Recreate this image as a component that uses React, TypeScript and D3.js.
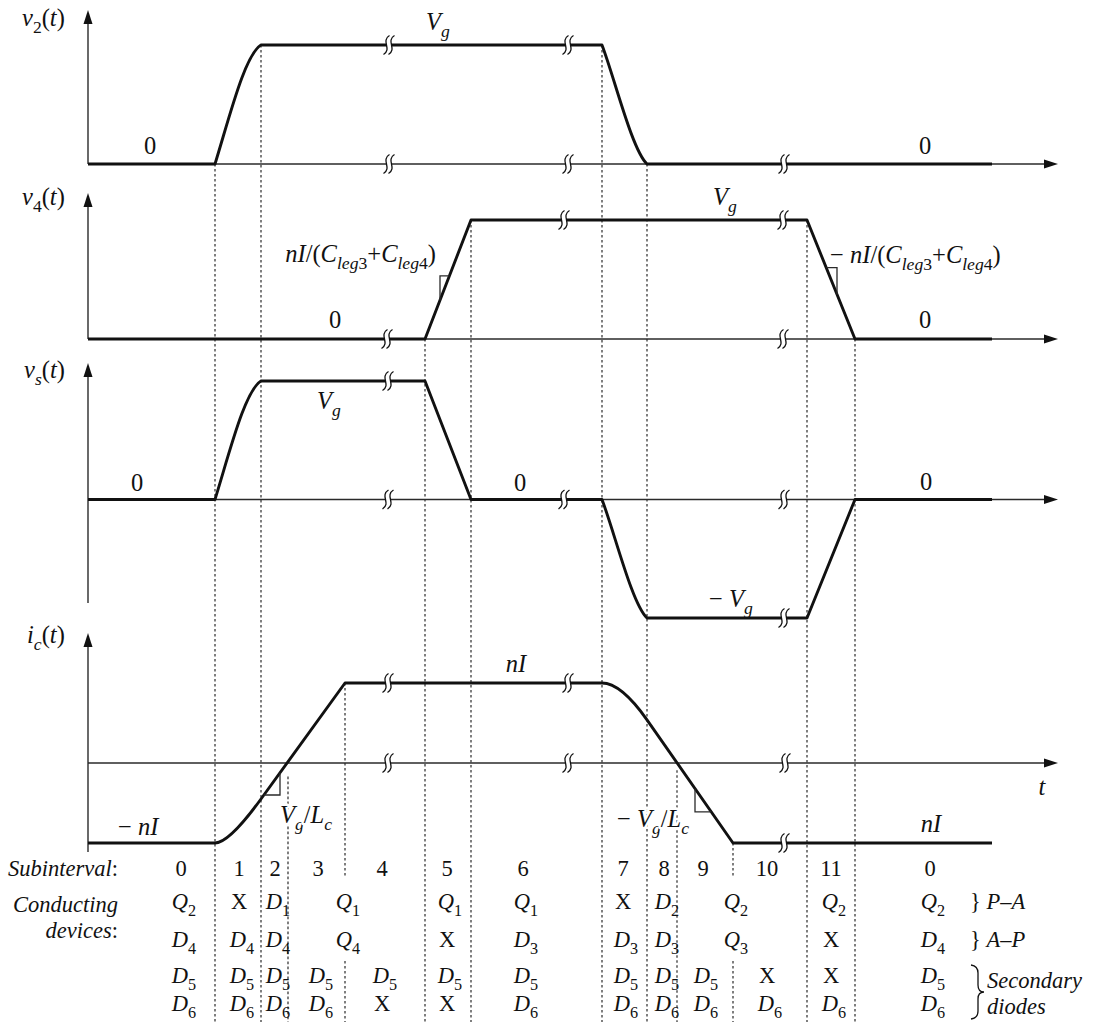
import React from 'react';
import * as d3 from 'd3';

// ---- time instants (arbitrary time units) ----
// boundaries between subintervals 0..11
const edges = [12.7, 17.3, 20.0, 25.7, 33.7, 38.3, 51.4, 55.9, 58.9, 64.5, 71.9, 76.7];
const waveEnd = 90.4;
const axisEnd = 97;

// ---- waveforms: [t, value, optional bezier control points] ----
const v2Wave: any[] = [
  [0, 0], [12.7, 0], [17.3, 1, [[14.2, 0.41], [15.7, 0.92]]], [51.4, 1],
  [55.9, 0, [[52.7, 0.71], [54.4, 0.12]]], [waveEnd, 0],
];
const v4Wave: any[] = [[0, 0], [33.7, 0], [38.3, 1], [71.9, 1], [76.7, 0], [waveEnd, 0]];
const vsWave: any[] = [
  [0, 0], [12.7, 0], [17.3, 1, [[14.2, 0.41], [15.7, 0.92]]], [33.7, 1], [38.3, 0], [51.4, 0],
  [55.9, -1, [[52.7, -0.29], [54.4, -0.88]]], [71.9, -1], [76.7, 0], [waveEnd, 0],
];
const icWave: any[] = [
  [0, -1], [12.7, -1], [17.3, -0.45, [[14.1, -1]]], [25.7, 1], [51.4, 1],
  [55.9, 0.54, [[53.3, 1]]], [64.5, -1], [waveEnd, -1],
];

// slope indicators: corner point and the wave segment (ending vertex index) they sit on
const slopeMarks = [
  { panel: 'v4', wave: v4Wave, seg: 2, corner: [35.2, 0.53] },
  { panel: 'v4', wave: v4Wave, seg: 4, corner: [74.9, 0.6] },
  { panel: 'ic', wave: icWave, seg: 3, corner: [19.2, -0.4] },
  { panel: 'ic', wave: icWave, seg: 6, corner: [60.7, -0.61] },
];

// axis break symbols
const breaks: [string, number, number][] = [
  ['v2', 1, 30.1], ['v2', 1, 48.0], ['v2', 0, 30.1], ['v2', 0, 48.0], ['v2', 0, 69.6],
  ['v4', 0, 29.9], ['v4', 1, 47.6], ['v4', 1, 69.5], ['v4', 0, 69.5],
  ['vs', 1, 30.0], ['vs', 0, 30.0], ['vs', 0, 47.6], ['vs', 0, 69.6], ['vs', -1, 69.6],
  ['ic', 1, 30.0], ['ic', 1, 48.0], ['ic', 0, 30.0], ['ic', 0, 48.0], ['ic', 0, 69.7], ['ic', -1, 69.6],
];

// dashed guides: time, panel/value where they start, whether interrupted by spanning table cells
const guides: [number, string, number, boolean][] = [
  [12.7, 'v2', 0, false], [17.3, 'v2', 1, false], [20.0, 'ic', -0.17, false], [25.7, 'ic', 1, true],
  [33.7, 'v4', 0, false], [38.3, 'v4', 1, false], [51.4, 'v2', 1, false], [55.9, 'v2', 0, false],
  [58.9, 'ic', -0.09, false], [64.5, 'ic', -1, true], [71.9, 'v4', 1, false], [76.7, 'v4', 0, false],
];

// ---- table ----
const subintervals = ['0', '1', '2', '3', '4', '5', '6', '7', '8', '9', '10', '11', '0'];
const columnCenters = [9.3, 15.1, 18.7, 23.0, 29.4, 35.9, 43.5, 53.5, 57.6, 61.5, 67.9, 74.3, 84.2];
const rowPA = ['Q2', 'X', 'D1', 'Q1', '~', 'Q1', 'Q1', 'X', 'D2', 'Q2', '~', 'Q2', 'Q2'];
const rowAP = ['D4', 'D4', 'D4', 'Q4', '~', 'X', 'D3', 'D3', 'D3', 'Q3', '~', 'X', 'D4'];
const rowD5 = ['D5', 'D5', 'D5', 'D5', 'D5', 'D5', 'D5', 'D5', 'D5', 'D5', 'X', 'X', 'D5'];
const rowD6 = ['D6', 'D6', 'D6', 'D6', 'X', 'X', 'D6', 'D6', 'D6', 'D6', 'D6', 'D6', 'D6'];

const FONT = "'Liberation Serif', 'Times New Roman', Tinos, 'DejaVu Serif', 'Noto Serif', FreeSerif, Times, serif";
const INK = '#111';
const THIN = '#2a2a2a';

const x = d3.scaleLinear().domain([0, axisEnd]).range([88, 1058]);
const y: Record<string, d3.ScaleLinear<number, number>> = {
  v2: d3.scaleLinear().domain([0, 1]).range([164, 45]),
  v4: d3.scaleLinear().domain([0, 1]).range([339, 220]),
  vs: d3.scaleLinear().domain([-1, 1]).range([618, 381]),
  ic: d3.scaleLinear().domain([-1, 1]).range([843, 683]),
};
const frames = [
  { key: 'v2', top: 10, bottom: 164 },
  { key: 'v4', top: 193, bottom: 339 },
  { key: 'vs', top: 363, bottom: 603 },
  { key: 'ic', top: 633, bottom: 852 },
];

function wavePath(pts: any[], ys: d3.ScaleLinear<number, number>) {
  const p = d3.path();
  pts.forEach((pt, i) => {
    const [t, v, c] = pt;
    if (i === 0) p.moveTo(x(t), ys(v));
    else if (c && c.length === 2) p.bezierCurveTo(x(c[0][0]), ys(c[0][1]), x(c[1][0]), ys(c[1][1]), x(t), ys(v));
    else if (c) p.quadraticCurveTo(x(c[0][0]), ys(c[0][1]), x(t), ys(v));
    else p.lineTo(x(t), ys(v));
  });
  return p.toString();
}

type Run = [string, string?];
function Rich({ px, py, size, runs, anchor = 'start', halo = false }:
  { px: number; py: number; size: number; runs: Run[]; anchor?: string; halo?: boolean }) {
  let shift = 0;
  const kids = runs.map(([t, f = ''], i) => {
    const sub = f.includes('s');
    const target = sub ? size * 0.3 : 0;
    const dy = target - shift;
    shift = target;
    return (
      <tspan key={i} dy={dy} style={{ fontStyle: f.includes('i') ? 'italic' : 'normal', fontSize: sub ? size * 0.72 : size }}>
        {t}
      </tspan>
    );
  });
  return (
    <text x={px} y={py} textAnchor={anchor as any} fill={INK}
      stroke={halo ? '#fff' : 'none'} strokeWidth={halo ? 5 : 0} strokeLinejoin="round"
      style={{ paintOrder: 'stroke', fontFamily: FONT, fontSize: size } as any}>
      {kids}
    </text>
  );
}

function cellRuns(label: string): Run[] {
  const m = /^([QD])(\d)$/.exec(label);
  if (m) return [[m[1], 'i'], [m[2], 's']];
  return [[label]];
}

function BreakMark({ cx, cy }: { cx: number; cy: number }) {
  const s = (dx: number) => {
    const a = cx + dx;
    return `M${a + 3},${cy - 9.5} C${a - 6},${cy - 4} ${a + 6},${cy + 4} ${a - 3},${cy + 9.5}`;
  };
  const gapFill = `${s(-5)} L${cx - 3},${cy + 9.5} C${cx + 6},${cy + 4} ${cx - 6},${cy - 4} ${cx + 3},${cy - 9.5} Z`;
  return (
    <g>
      <path d={gapFill} fill="#fff" stroke="none" />
      <path d={s(-5)} fill="none" stroke={INK} strokeWidth={1.3} />
      <path d={s(0)} fill="none" stroke={INK} strokeWidth={1.3} />
    </g>
  );
}

export default function App() {
  const rowBase = { sub: 876, pa: 909, ap: 947, d5: 983, d6: 1011 };
  const guideBottom = 1022;
  const LS = 24.5;
  const TS = 22.5;

  const tableRow = (row: string[], yb: number, key: string) =>
    row.map((lab, i) => {
      if (lab === '~') return null;
      const spans = row[i + 1] === '~';
      const cx = spans ? x(edges[i]) : x(columnCenters[i]);
      const off = /\d$/.test(lab) ? 3 : 0;
      return <Rich key={key + i} px={cx + off} py={yb} size={TS} anchor="middle" runs={cellRuns(lab)} />;
    });

  const slopePath = (m: any) => {
    const ys = y[m.panel];
    const a = m.wave[m.seg - 1], b = m.wave[m.seg];
    const ax = x(a[0]), ay = ys(a[1]), bx = x(b[0]), by = ys(b[1]);
    const cx = x(m.corner[0]), cy = ys(m.corner[1]);
    const xAtY = ax + ((cy - ay) / (by - ay)) * (bx - ax);
    const yAtX = ay + ((cx - ax) / (bx - ax)) * (by - ay);
    return `M${xAtY},${cy} L${cx},${cy} L${cx},${yAtX}`;
  };

  return (
    <svg width={1096} height={1023} style={{ position: 'absolute', left: 0, top: 0, background: '#fff' }}>
      <rect width={1096} height={1023} fill="#fff" />

      {/* dashed guides */}
      {guides.map(([t, p, v, gap], i) => {
        const gx = x(t);
        const top = y[p](v);
        const segs = gap ? [[top, 878], [961, guideBottom]] : [[top, guideBottom]];
        return segs.map(([a, b], j) => (
          <line key={`g${i}-${j}`} x1={gx} x2={gx} y1={a} y2={b} stroke={THIN} strokeWidth={1.2} strokeDasharray="2.6,2.4" />
        ));
      })}

      {/* axes */}
      {frames.map((f) => {
        const y0 = y[f.key](0);
        return (
          <g key={f.key}>
            <line x1={x(0)} x2={x(0)} y1={f.top + 8} y2={f.bottom} stroke={THIN} strokeWidth={1.4} />
            <path d={`M${x(0)},${f.top} L${x(0) - 4.5},${f.top + 14} L${x(0) + 4.5},${f.top + 14} Z`} fill={INK} />
            <line x1={x(0)} x2={x(axisEnd) - 8} y1={y0} y2={y0} stroke={THIN} strokeWidth={1.3} />
            <path d={`M${x(axisEnd)},${y0} L${x(axisEnd) - 14},${y0 - 4.5} L${x(axisEnd) - 14},${y0 + 4.5} Z`} fill={INK} />
          </g>
        );
      })}

      {/* waveforms */}
      {[['v2', v2Wave], ['v4', v4Wave], ['vs', vsWave], ['ic', icWave]].map(([k, w]: any) => (
        <path key={k} d={wavePath(w, y[k])} fill="none" stroke={INK} strokeWidth={2.9} strokeLinejoin="round" />
      ))}

      {/* slope indicators */}
      {slopeMarks.map((m, i) => (
        <path key={`s${i}`} d={slopePath(m)} fill="none" stroke={THIN} strokeWidth={1.3} />
      ))}

      {/* break symbols */}
      {breaks.map(([p, v, t], i) => (
        <BreakMark key={`b${i}`} cx={x(t) + 2.5} cy={y[p](v)} />
      ))}

      {/* axis titles */}
      <Rich px={22} py={26} size={LS} runs={[['v', 'i'], ['2', 's'], ['('], ['t', 'i'], [')']]} />
      <Rich px={22} py={205} size={LS} runs={[['v', 'i'], ['4', 's'], ['('], ['t', 'i'], [')']]} />
      <Rich px={24} py={378} size={LS} runs={[['v', 'i'], ['s', 'si'], ['('], ['t', 'i'], [')']]} />
      <Rich px={27} py={643} size={LS} runs={[['i', 'i'], ['c', 'si'], ['('], ['t', 'i'], [')']]} />

      {/* v2 labels */}
      <Rich px={150} py={154} size={LS} anchor="middle" runs={[['0']]} />
      <Rich px={426} py={30} size={LS} runs={[['V', 'i'], ['g', 'si']]} />
      <Rich px={925} py={154} size={LS} anchor="middle" runs={[['0']]} />

      {/* v4 labels */}
      <Rich px={436} py={262} size={LS} anchor="end"
        runs={[['nI', 'i'], ['/('], ['C', 'i'], ['leg', 'si'], ['3', 's'], ['+'], ['C', 'i'], ['leg', 'si'], ['4', 's'], [')']]} />
      <Rich px={335} py={328} size={LS} anchor="middle" runs={[['0']]} />
      <Rich px={713} py={205} size={LS} runs={[['V', 'i'], ['g', 'si']]} />
      <Rich px={830} py={263} size={LS}
        runs={[['− '], ['nI', 'i'], ['/('], ['C', 'i'], ['leg', 'si'], ['3', 's'], ['+'], ['C', 'i'], ['leg', 'si'], ['4', 's'], [')']]} />
      <Rich px={925} py={328} size={LS} anchor="middle" runs={[['0']]} />

      {/* vs labels */}
      <Rich px={137} py={491} size={LS} anchor="middle" runs={[['0']]} />
      <Rich px={317} py={409} size={LS} runs={[['V', 'i'], ['g', 'si']]} />
      <Rich px={520} py={491} size={LS} anchor="middle" runs={[['0']]} />
      <Rich px={926} py={490} size={LS} anchor="middle" runs={[['0']]} />
      <Rich px={709} py={607} size={LS} runs={[['− '], ['V', 'i'], ['g', 'si']]} />

      {/* ic labels */}
      <Rich px={516} py={672} size={LS} anchor="middle" runs={[['nI', 'i']]} />
      <Rich px={118} py={835} size={LS} runs={[['− '], ['nI', 'i']]} />
      <Rich px={280} py={823} size={LS} halo runs={[['V', 'i'], ['g', 'si'], ['/'], ['L', 'i'], ['c', 'si']]} />
      <Rich px={617} py={827} size={LS} halo runs={[['− '], ['V', 'i'], ['g', 'si'], ['/'], ['L', 'i'], ['c', 'si']]} />
      <Rich px={931} py={832} size={LS} anchor="middle" runs={[['nI', 'i']]} />
      <Rich px={1042} py={795} size={LS} anchor="middle" runs={[['t', 'i']]} />

      {/* table */}
      <Rich px={118} py={rowBase.sub} size={TS} anchor="end" runs={[['Subinterval', 'i'], [':']]} />
      <Rich px={118} py={912} size={TS} anchor="end" runs={[['Conducting', 'i']]} />
      <Rich px={118} py={938} size={TS} anchor="end" runs={[['devices', 'i'], [':']]} />
      {subintervals.map((s, i) => (
        <Rich key={`n${i}`} px={x(columnCenters[i])} py={rowBase.sub} size={TS} anchor="middle" runs={[[s]]} />
      ))}
      {tableRow(rowPA, rowBase.pa, 'pa')}
      {tableRow(rowAP, rowBase.ap, 'ap')}
      {tableRow(rowD5, rowBase.d5, 'd5')}
      {tableRow(rowD6, rowBase.d6, 'd6')}

      <Rich px={970} py={rowBase.pa} size={TS} runs={[['} '], ['P–A', 'i']]} />
      <Rich px={970} py={rowBase.ap} size={TS} runs={[['} '], ['A–P', 'i']]} />
      <path d="M971,965 Q978,966 978,973 L978,985 Q978,992 984,992 Q978,992 978,999 L978,1011 Q978,1018 971,1019"
        fill="none" stroke={INK} strokeWidth={1.3} />
      <Rich px={987} py={988} size={TS} runs={[['Secondary', 'i']]} />
      <Rich px={987} py={1014} size={TS} runs={[['diodes', 'i']]} />
    </svg>
  );
}
